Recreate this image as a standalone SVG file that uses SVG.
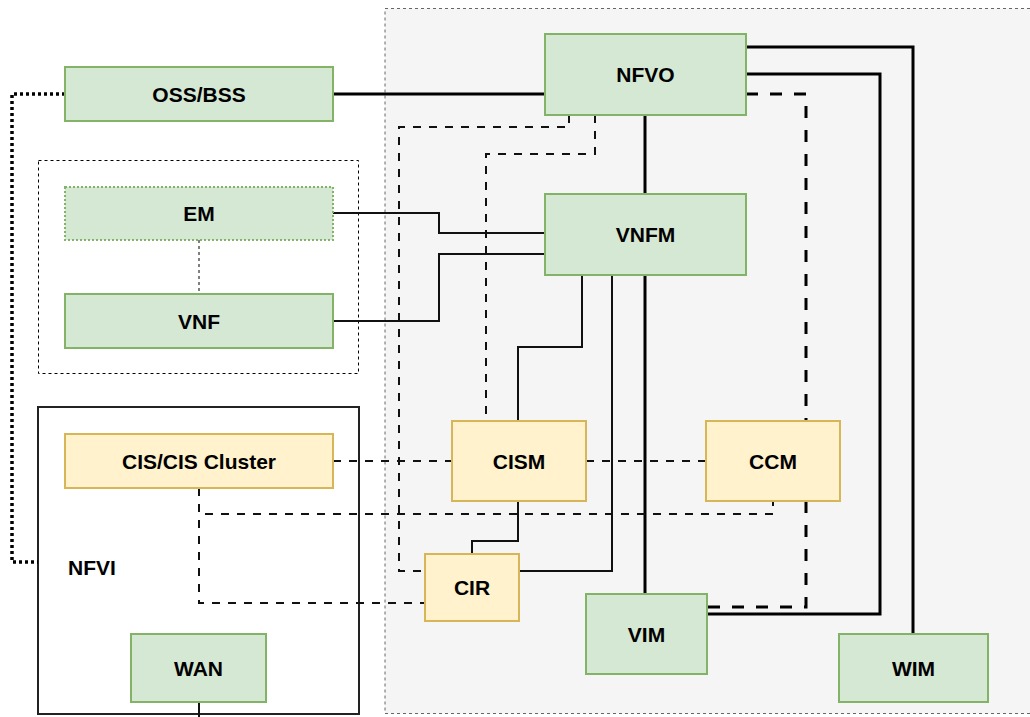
<svg xmlns="http://www.w3.org/2000/svg" width="1030" height="717" viewBox="0 0 1030 717">
  <style>
    .green { fill: #d5e8d4; stroke: #82b366; stroke-width: 2; }
    .green-dotted { fill: #d5e8d4; stroke: #82b366; stroke-width: 2; stroke-dasharray: 2 2; }
    .yellow { fill: #fff2cc; stroke: #d6b656; stroke-width: 2; }
    .label { font-family: "Liberation Sans", Arial, sans-serif; font-size: 21px; font-weight: bold; fill: #000; text-anchor: middle; }
    .label-left { font-family: "Liberation Sans", Arial, sans-serif; font-size: 21px; font-weight: bold; fill: #000; }
    .thick { fill: none; stroke: #000; stroke-width: 3; }
    .thick-dash { fill: none; stroke: #000; stroke-width: 3; stroke-dasharray: 12 12; }
    .solid { fill: none; stroke: #111; stroke-width: 2; }
    .dash { fill: none; stroke: #111; stroke-width: 2; stroke-dasharray: 8 8; }
    .thin-dash { fill: none; stroke: #000; stroke-width: 1; stroke-dasharray: 3 3; }
    .dotted { fill: none; stroke: #000; stroke-width: 3.5; stroke-dasharray: 3 3; }
  </style>

  <rect width="1030" height="717" fill="#ffffff"/>

  <!-- MANO area -->
  <g id="mano-area">
    <rect x="385" y="8.5" width="660" height="705" fill="#f5f5f5" stroke="#666" stroke-width="1" stroke-dasharray="3 3"/>
  </g>

  <!-- NFVI container -->
  <g id="nfvi">
    <rect x="38" y="407" width="321" height="307" fill="#ffffff" stroke="#222" stroke-width="2"/>
    <text class="label-left" x="68" y="575">NFVI</text>
  </g>

  <!-- VNF / EM grouping -->
  <g id="vnf-group">
    <rect x="38.5" y="160.5" width="320" height="213" fill="none" stroke="#000" stroke-width="1" stroke-dasharray="3 3"/>
  </g>

  <!-- Connectors -->
  <g id="connectors">
    <path class="dotted" d="M65,94 H12 V562 H38"/>
    <path class="thick" d="M333,94 H545"/>
    <path class="thick" d="M645,115 V194"/>
    <path class="thick" d="M645,275 V594"/>
    <path class="thick" d="M746,47 H913 V634"/>
    <path class="thick" d="M746,74 H880 V614 H707"/>
    <path class="thick-dash" d="M746,94 H806 V421"/>
    <path class="thick-dash" d="M806,501 V607 H707"/>
    <path class="dash" d="M569,115 V127 H399 V571 H425"/>
    <path class="dash" d="M595,115 V154 H486 V421"/>
    <path class="solid" d="M333,213 H439 V233 H545"/>
    <path class="solid" d="M333,321 H439 V254 H545"/>
    <path class="solid" d="M582,275 V347 H518 V421"/>
    <path class="solid" d="M597,275 H612 V571 H519"/>
    <path class="solid" d="M518,501 V541 H472 V554"/>
    <path class="dash" d="M333,461 H452"/>
    <path class="dash" d="M586,461 H706"/>
    <path class="dash" d="M199,488 V514 H773 V501"/>
    <path class="dash" d="M199,488 V603 H425"/>
    <path class="thin-dash" d="M199,240 V294"/>
    <path class="solid" d="M199,702 V717"/>
  </g>

  <!-- Nodes -->
  <g id="oss-bss">
    <rect class="green" x="65" y="67" width="268" height="54"/>
    <text class="label" x="199" y="101.5">OSS/BSS</text>
  </g>
  <g id="nfvo">
    <rect class="green" x="545" y="34" width="201" height="81"/>
    <text class="label" x="645.5" y="81.5">NFVO</text>
  </g>
  <g id="em">
    <rect class="green-dotted" x="65" y="187" width="268" height="53"/>
    <text class="label" x="199" y="221">EM</text>
  </g>
  <g id="vnf">
    <rect class="green" x="65" y="294" width="268" height="54"/>
    <text class="label" x="199" y="328.5">VNF</text>
  </g>
  <g id="vnfm">
    <rect class="green" x="545" y="194" width="201" height="81"/>
    <text class="label" x="645.5" y="242">VNFM</text>
  </g>
  <g id="cis-cluster">
    <rect class="yellow" x="65" y="434" width="268" height="54"/>
    <text class="label" x="199" y="468.5">CIS/CIS Cluster</text>
  </g>
  <g id="cism">
    <rect class="yellow" x="452" y="421" width="134" height="80"/>
    <text class="label" x="519" y="468.5">CISM</text>
  </g>
  <g id="ccm">
    <rect class="yellow" x="706" y="421" width="134" height="80"/>
    <text class="label" x="773" y="468.5">CCM</text>
  </g>
  <g id="cir">
    <rect class="yellow" x="425" y="554" width="94" height="67"/>
    <text class="label" x="472" y="595">CIR</text>
  </g>
  <g id="vim">
    <rect class="green" x="586" y="594" width="121" height="80"/>
    <text class="label" x="646.5" y="641.5">VIM</text>
  </g>
  <g id="wim">
    <rect class="green" x="839" y="634" width="149" height="68"/>
    <text class="label" x="913.5" y="675.5">WIM</text>
  </g>
  <g id="wan">
    <rect class="green" x="131" y="634" width="135" height="68"/>
    <text class="label" x="198.5" y="675.5">WAN</text>
  </g>
</svg>
